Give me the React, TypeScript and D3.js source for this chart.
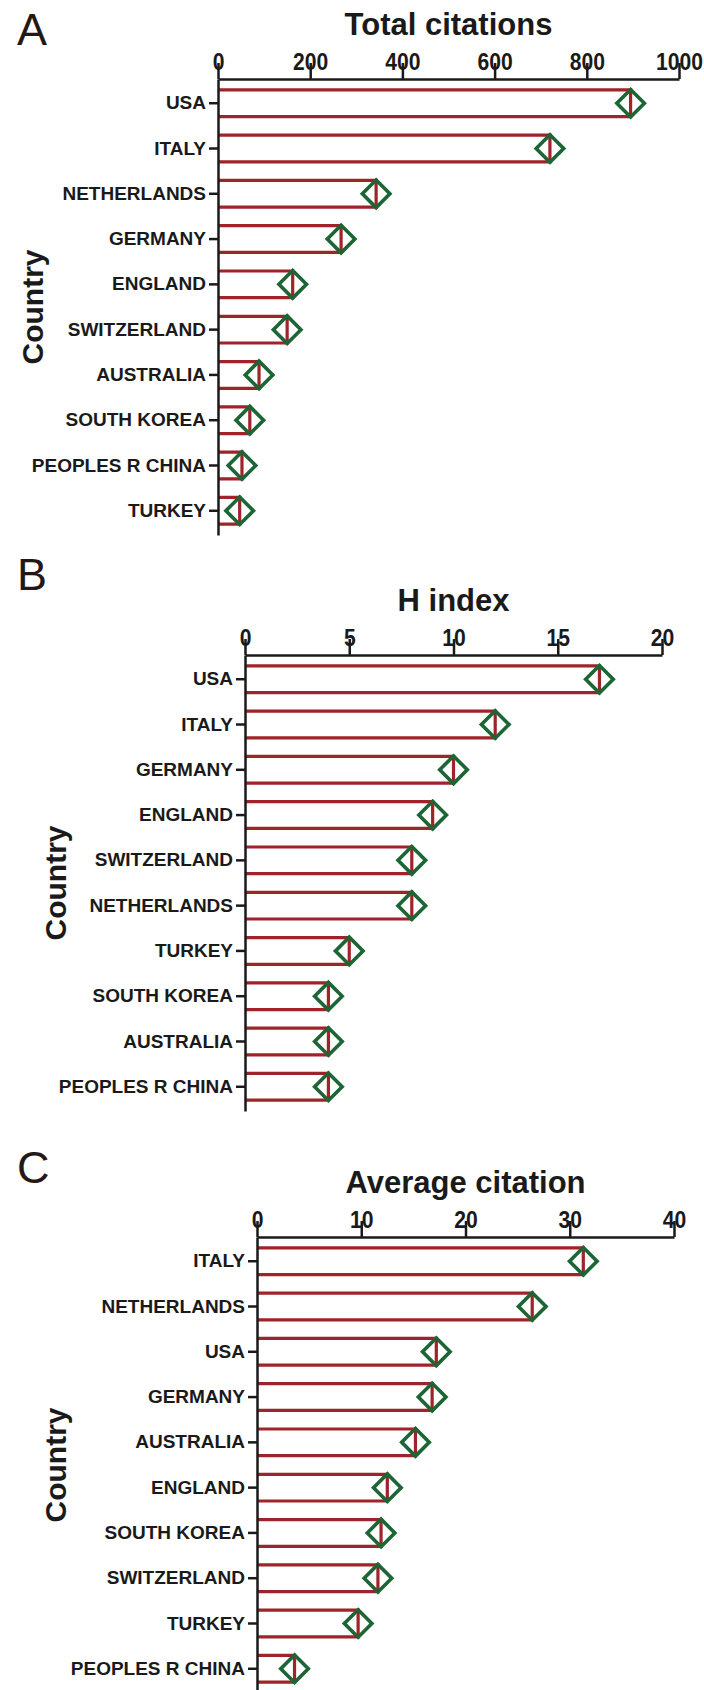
import React, { useEffect, useRef } from "react";
import * as d3 from "d3";

// Panel A: total citations
const citationCountries = ["USA", "ITALY", "NETHERLANDS", "GERMANY", "ENGLAND", "SWITZERLAND", "AUSTRALIA", "SOUTH KOREA", "PEOPLES R CHINA", "TURKEY"];
const citationValues = [895, 720, 343, 267, 162, 150, 89, 69, 52, 47];
const citationTicks = [0, 200, 400, 600, 800, 1000];

// Panel B: H index
const hIndexCountries = ["USA", "ITALY", "GERMANY", "ENGLAND", "SWITZERLAND", "NETHERLANDS", "TURKEY", "SOUTH KOREA", "AUSTRALIA", "PEOPLES R CHINA"];
const hIndexValues = [17, 12, 10, 9, 8, 8, 5, 4, 4, 4];
const hIndexTicks = [0, 5, 10, 15, 20];

// Panel C: average citation
const avgCountries = ["ITALY", "NETHERLANDS", "USA", "GERMANY", "AUSTRALIA", "ENGLAND", "SOUTH KOREA", "SWITZERLAND", "TURKEY", "PEOPLES R CHINA"];
const avgValues = [31.3, 26.4, 17.2, 16.8, 15.2, 12.5, 11.9, 11.6, 9.7, 3.6];
const avgTicks = [0, 10, 20, 30, 40];

const FONT = "'Liberation Sans', Arial, Helvetica, sans-serif";
const BAR_RED = "#9e2429";
const DIAMOND_GREEN = "#1c6534";
const INK = "#1a1a1a";
const WIDTH = 704;
const HEIGHT = 1690;
const PLOT_H = 456;

const panels = [
  { letter: "A", letterY: 45, title: "Total citations", countries: citationCountries, values: citationValues, ticks: citationTicks, x0: 218, x1: 679, top: 79, countryX: 43 },
  { letter: "B", letterY: 590, title: "H index", countries: hIndexCountries, values: hIndexValues, ticks: hIndexTicks, x0: 245, x1: 662, top: 655, countryX: 66 },
  { letter: "C", letterY: 1183, title: "Average citation", countries: avgCountries, values: avgValues, ticks: avgTicks, x0: 257, x1: 674, top: 1237, countryX: 66 },
];

function drawPanel(svg, p) {
  const x = d3
    .scaleLinear()
    .domain([0, p.ticks[p.ticks.length - 1]])
    .range([p.x0, p.x1]);
  const y = d3
    .scaleBand()
    .domain(p.countries)
    .range([p.top, p.top + PLOT_H])
    .paddingInner(0.41)
    .paddingOuter(0.24);
  const rows = p.countries.map((c, i) => ({ country: c, value: p.values[i] }));

  const g = svg.append("g");

  // bars: open outline, no left edge (the axis sits there)
  g.selectAll("path.bar")
    .data(rows)
    .join("path")
    .attr("class", "bar")
    .attr("d", (d) => {
      const t = y(d.country);
      const b = t + y.bandwidth();
      return `M${x(0)},${t}H${x(d.value)}V${b}H${x(0)}`;
    })
    .attr("fill", "none")
    .attr("stroke", BAR_RED)
    .attr("stroke-width", 3.2);

  // top axis, ticks poke up into the numbers
  const ax = g
    .append("g")
    .attr("transform", `translate(0,${p.top})`)
    .call(
      d3.axisTop(x)
        .tickValues(p.ticks)
        .tickFormat(d3.format("d"))
        .tickSize(16)
        .tickPadding(-7)
        .tickSizeOuter(0)
    );
  ax.selectAll("path, line").attr("stroke", INK).attr("stroke-width", 2.5);
  ax.selectAll("text")
    .attr("font-family", FONT)
    .attr("font-weight", "bold")
    .attr("font-size", 24)
    .attr("transform", "scale(0.88,1)")
    .attr("fill", INK);

  // left axis
  const ay = g
    .append("g")
    .attr("transform", `translate(${p.x0},0)`)
    .call(d3.axisLeft(y).tickSize(9).tickPadding(3).tickSizeOuter(0));
  ay.selectAll("path, line").attr("stroke", INK).attr("stroke-width", 2.5);
  ay.selectAll("text")
    .attr("font-family", FONT)
    .attr("font-weight", "bold")
    .attr("font-size", 19)
    .attr("fill", INK);

  // diamonds at bar ends
  const diamond = d3.symbol().type(d3.symbolSquare).size(19.5 * 19.5);
  g.selectAll("path.dia")
    .data(rows)
    .join("path")
    .attr("class", "dia")
    .attr("d", diamond)
    .attr("transform", (d) => `translate(${x(d.value)},${y(d.country) + y.bandwidth() / 2}) rotate(45)`)
    .attr("fill", "none")
    .attr("stroke", DIAMOND_GREEN)
    .attr("stroke-width", 3.6);

  // title
  g.append("text")
    .attr("x", (p.x0 + p.x1) / 2)
    .attr("y", p.top - 44)
    .attr("text-anchor", "middle")
    .attr("font-family", FONT)
    .attr("font-weight", "bold")
    .attr("font-size", 31)
    .attr("fill", INK)
    .text(p.title);

  // panel letter
  g.append("text")
    .attr("x", 17)
    .attr("y", p.letterY)
    .attr("font-family", FONT)
    .attr("font-size", 45)
    .attr("fill", "#231815")
    .text(p.letter);

  // y axis title
  g.append("text")
    .attr("transform", `translate(${p.countryX},${p.top + PLOT_H / 2}) rotate(-90)`)
    .attr("text-anchor", "middle")
    .attr("font-family", FONT)
    .attr("font-weight", "bold")
    .attr("font-size", 30)
    .attr("fill", INK)
    .text("Country");
}

export default function App() {
  const svgRef = useRef(null);

  useEffect(() => {
    const svg = d3.select(svgRef.current);
    svg.selectAll("*").remove();
    panels.forEach((p) => drawPanel(svg, p));
  }, []);

  return (
    <svg
      ref={svgRef}
      width={WIDTH}
      height={HEIGHT}
      style={{ position: "absolute", left: 0, top: 0, background: "#fff", display: "block" }}
    />
  );
}
